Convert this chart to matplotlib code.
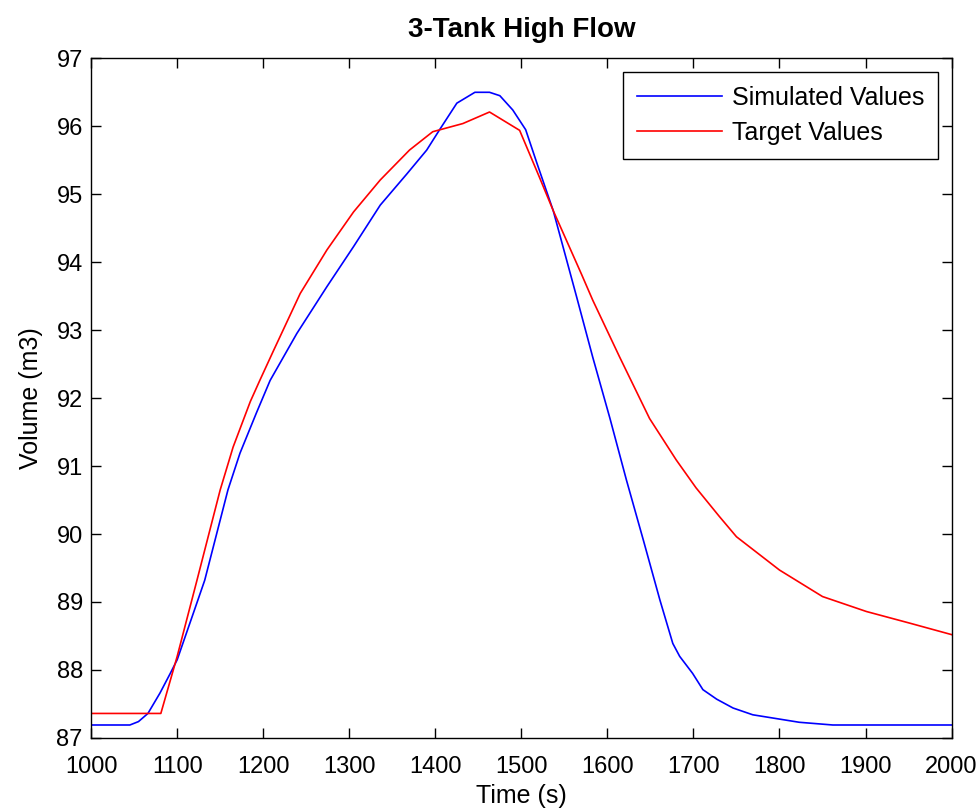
import matplotlib.pyplot as plt

plt.rcParams['font.family'] = ['Liberation Sans', 'DejaVu Sans']

# simulated values (blue)
sim_t = [1000, 1045, 1055, 1066, 1080, 1092, 1100, 1120, 1132, 1159, 1173, 1192,
         1208, 1239, 1274, 1305, 1336, 1367, 1390, 1405, 1425, 1446, 1463, 1475,
         1490, 1505, 1518, 1537, 1564, 1583, 1603, 1622, 1642, 1661, 1676, 1684,
         1699, 1711, 1727, 1746, 1769, 1823, 1862, 2000]
sim_v = [87.19, 87.19, 87.24, 87.36, 87.66, 87.95, 88.15, 88.88, 89.32, 90.65, 91.19, 91.78,
         92.26, 92.95, 93.64, 94.23, 94.84, 95.3, 95.65, 95.95, 96.34, 96.5, 96.5, 96.45,
         96.24, 95.95, 95.46, 94.76, 93.5, 92.6, 91.7, 90.8, 89.9, 89.03, 88.39, 88.2,
         87.95, 87.71, 87.57, 87.44, 87.34, 87.23, 87.19, 87.19]

# target values (red)
tgt_t = [1000, 1081, 1100, 1123, 1150, 1165, 1185, 1196, 1212, 1243, 1274, 1305,
         1336, 1370, 1397, 1432, 1463, 1498, 1521, 1537, 1570, 1583, 1614, 1649,
         1680, 1703, 1730, 1750, 1800, 1850, 1901, 1951, 2000]
tgt_v = [87.36, 87.36, 88.2, 89.32, 90.65, 91.28, 91.95, 92.26, 92.7, 93.54, 94.18, 94.74,
         95.21, 95.65, 95.92, 96.04, 96.21, 95.94, 95.25, 94.76, 93.82, 93.44, 92.61, 91.7,
         91.09, 90.68, 90.26, 89.96, 89.47, 89.08, 88.86, 88.69, 88.52]

fig = plt.figure(figsize=(9.8, 8.1), dpi=100)
ax = fig.add_axes([0.093, 0.089, 0.878, 0.839])

ax.plot(sim_t, sim_v, color='#0000ff', lw=1.2, label='Simulated Values')
ax.plot(tgt_t, tgt_v, color='#ff0000', lw=1.2, label='Target Values')

ax.set_xlim(1000, 2000)
ax.set_ylim(87, 97)
ax.set_xticks(range(1000, 2001, 100))
ax.set_yticks(range(87, 98))
ax.tick_params(direction='in', length=7, top=True, right=True, labelsize=17, width=1)
ax.tick_params(axis='x', pad=13)
ax.tick_params(axis='y', pad=6)
for s in ax.spines.values():
    s.set_linewidth(1)

ax.set_title('3-Tank High Flow', fontsize=20, fontweight='bold', pad=15)
ax.set_xlabel('Time (s)', fontsize=18, labelpad=4)
ax.set_ylabel('Volume (m3)', fontsize=18, labelpad=10)

leg = ax.legend(loc='upper right', fontsize=18, fancybox=False, framealpha=1,
                edgecolor='black', handlelength=3.4, handletextpad=0.4,
                labelspacing=0.45, borderpad=0.55, borderaxespad=0.55)
leg.get_frame().set_linewidth(1)

fig.savefig('out.png', dpi=100)
